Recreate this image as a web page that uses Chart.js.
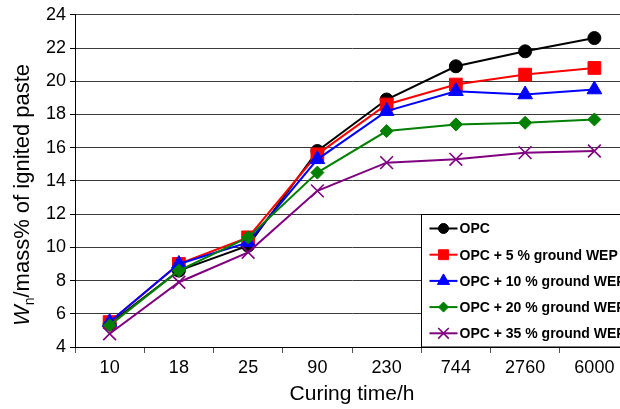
<!DOCTYPE html>
<html>
<head>
<meta charset="utf-8">
<script src="https://cdn.jsdelivr.net/npm/chart.js@4/dist/chart.umd.min.js"></script>
<style>
  html, body { margin: 0; padding: 0; background: #fff; overflow: hidden; }
  #wrap { width: 640px; height: 409px; }
</style>
</head>
<body>
<div id="wrap"><canvas id="chart"></canvas></div>
<script>
// curing times (h) and non-evaporable water, mass% of ignited paste
const curingTimes = ['10', '18', '25', '90', '230', '744', '2760', '6000'];
const opc   = [5.4, 8.6, 10.1, 15.8, 18.9, 20.9, 21.8, 22.6];
const wep5  = [5.5, 9.0, 10.6, 15.6, 18.6, 19.8, 20.4, 20.8];
const wep10 = [5.5, 9.0, 10.3, 15.3, 18.2, 19.4, 19.2, 19.5];
const wep20 = [5.3, 8.6, 10.6, 14.5, 17.0, 17.4, 17.5, 17.7];
const wep35 = [4.8, 7.9, 9.7, 13.4, 15.1, 15.3, 15.7, 15.8];
const seriesNames = ['OPC', 'OPC + 5 % ground WEP', 'OPC + 10 % ground WEP',
                     'OPC + 20 % ground WEP', 'OPC + 35 % ground WEP'];
const yTicks = { min: 4, max: 24, step: 2 };

const FONT = "'Liberation Sans', Arial, Helvetica, sans-serif";

function series(i, data, color, style, radius, legendRadius) {
    return {
        label: seriesNames[i],
        data: data,
        borderColor: color,
        backgroundColor: color,
        borderWidth: 2,
        pointStyle: style,
        pointRadius: radius,
        pointBackgroundColor: color,
        pointBorderColor: color,
        pointBorderWidth: style === 'crossRot' ? 1.6 : 1,
        legendRadius: legendRadius,
        tension: 0,
        order: 5 - i   // later series on top, like the original
    };
}

// white legend box sitting inside the plot, bottom right
const legendBox = {
    id: 'legendBox',
    afterDatasetsDraw(chart) {
        const ctx = chart.ctx;
        const xs = chart.scales.x, ys = chart.scales.y;
        const left = Math.round((xs.getPixelForValue(4) + xs.getPixelForValue(5)) / 2) + 0.5;
        const top = Math.round(ys.getPixelForValue(12)) + 0.5;
        const bottom = chart.chartArea.bottom;
        ctx.save();
        ctx.fillStyle = '#fff';
        ctx.fillRect(left, top, 400, bottom - top);
        ctx.strokeStyle = '#000';
        ctx.lineWidth = 1;
        ctx.strokeRect(left, top, 400, bottom - top);
        ctx.font = 'bold 14px ' + FONT;
        ctx.textBaseline = 'middle';
        chart.data.datasets.forEach((d, i) => {
            const y = top + 14 + i * 26.2;
            ctx.strokeStyle = d.borderColor;
            ctx.lineWidth = 2;
            ctx.beginPath();
            ctx.moveTo(left + 8, y);
            ctx.lineTo(left + 36, y);
            ctx.stroke();
            ctx.fillStyle = d.borderColor;
            ctx.lineWidth = d.pointBorderWidth;
            Chart.helpers.drawPoint(ctx, {
                pointStyle: d.pointStyle, radius: d.legendRadius,
                rotation: 0, borderWidth: d.pointBorderWidth
            }, left + 22, y);
            ctx.fillStyle = '#000';
            ctx.fillText(d.label, left + 38, y + 1);
        });
        ctx.restore();
    }
};

// rotated y title with italic W and subscript n
const yTitle = {
    id: 'yTitle',
    afterDraw(chart) {
        const ctx = chart.ctx;
        ctx.save();
        ctx.translate(29, 195);
        ctx.rotate(-Math.PI / 2);
        ctx.fillStyle = '#000';
        ctx.textBaseline = 'alphabetic';
        const fW = 'italic 22px ' + FONT, fSub = '14px ' + FONT, fRest = '22px ' + FONT;
        const rest = '/mass% of ignited paste';
        ctx.font = fW; const wW = ctx.measureText('W').width;
        ctx.font = fSub; const wS = ctx.measureText('n').width;
        ctx.font = fRest; const wR = ctx.measureText(rest).width;
        let x = -(wW + wS + wR) / 2;
        ctx.font = fW; ctx.fillText('W', x, 0); x += wW;
        ctx.font = fSub; ctx.fillText('n', x, 5); x += wS;
        ctx.font = fRest; ctx.fillText(rest, x, 0);
        ctx.restore();
    }
};

new Chart(document.getElementById('chart'), {
    type: 'line',
    data: {
        labels: curingTimes,
        datasets: [
            series(0, opc,   '#000000', 'circle',   6.5, 5),
            series(1, wep5,  '#ff0000', 'rect',     9,   7),
            series(2, wep10, '#0000ff', 'triangle', 8.5, 7),
            series(3, wep20, '#008000', 'rectRot',  6.5, 5),
            series(4, wep35, '#800080', 'crossRot', 9,   7.5)
        ]
    },
    options: {
        responsive: true,
        maintainAspectRatio: false,
        animation: false,
        layout: { padding: { top: 14, right: 11, left: 0, bottom: 0 } },
        plugins: {
            legend: { display: false },
            tooltip: { enabled: false }
        },
        scales: {
            x: {
                offset: true,
                grid: { offset: true, drawOnChartArea: false, drawTicks: true,
                        tickLength: 6, color: '#555', tickColor: '#555' },
                border: { display: true, color: '#000', width: 1 },
                ticks: { color: '#000', font: { family: FONT, size: 18 }, padding: 4,
                         maxRotation: 0, autoSkip: false },
                title: { display: true, text: 'Curing time/h', color: '#000',
                         font: { family: FONT, size: 21 }, padding: { top: 2, bottom: 2 } },
                afterFit(s) { s.height = 62; }
            },
            y: {
                min: yTicks.min,
                max: yTicks.max,
                grid: { color: '#3a3a3a', tickColor: '#000', tickLength: 5, lineWidth: 1 },
                border: { display: true, color: '#000', width: 1 },
                ticks: { stepSize: yTicks.step, color: '#000', padding: 4,
                         font: { family: FONT, size: 18 } },
                afterFit(s) { s.width = 75; }
            }
        }
    },
    plugins: [legendBox, yTitle]
});
</script>
</body>
</html>
